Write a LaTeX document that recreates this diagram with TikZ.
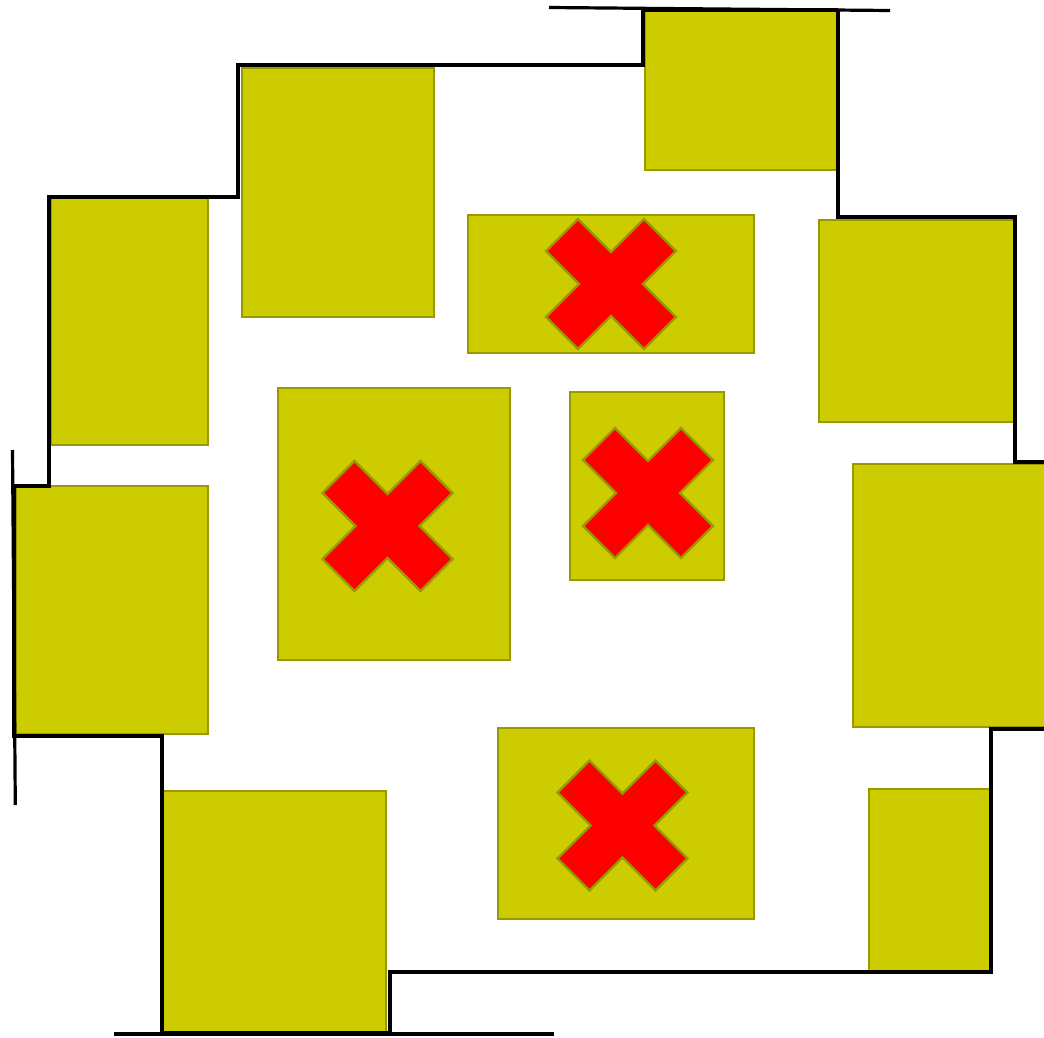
\documentclass[tikz,border=0pt]{standalone}
\usepackage{tikz}
\definecolor{boxfill}{HTML}{CCCC00}
\definecolor{boxedge}{HTML}{999900}
\definecolor{xred}{HTML}{FF0000}
\tikzset{
  blk/.style={fill=boxfill,draw=boxedge,line width=2.8pt},
  cross/.style={fill=xred,draw=boxedge,line width=2.2pt,line join=miter},
  wall/.style={draw=black,line width=4pt,line join=miter},
  thin wall/.style={draw=black,line width=3.2pt}
}
\newcommand{\xmark}[2]{%
  \path[cross,shift={(#1,#2)}] (-33,-65)--(0,-32)--(33,-65)--(65,-33)--(32,0)--(65,33)--(33,65)--(0,32)--(-33,65)--(-65,33)--(-32,0)--(-65,-33)--cycle;}
\begin{document}
\begin{tikzpicture}[x=1pt,y=-1pt]
\useasboundingbox (0,0) rectangle (1044,1038);
% blocks
\path[blk] (645,11) rectangle (837,170);
\path[blk] (242,68) rectangle (434,317);
\path[blk] (51,198) rectangle (208,445);
\path[blk] (16,486) rectangle (208,734);
\path[blk] (162,791) rectangle (386,1033);
\path[blk] (498,728) rectangle (754,919);
\path[blk] (869,789) rectangle (990,972);
\path[blk] (853,464) rectangle (1050,727);
\path[blk] (819,220) rectangle (1014,422);
\path[blk] (468,215) rectangle (754,353);
\path[blk] (278,388) rectangle (510,660);
\path[blk] (570,392) rectangle (724,580);
% crosses
\xmark{611}{284}
\xmark{387.5}{526}
\xmark{648}{493}
\xmark{622.5}{825.5}
% outline
\path[wall] (838,10) -- (838,217) -- (1015,217) -- (1015,462) -- (1050,462);
\path[wall] (1050,729) -- (991,729) -- (991,972) -- (390,972) -- (390,1033)
  -- (162,1033) -- (162,736) -- (14,736) -- (14,486) -- (49,486) -- (49,197)
  -- (238,197) -- (238,65) -- (643,65) -- (643,10) -- (838,10);
% extra lines
\path[thin wall] (549,7.5) -- (890,10.5);
\path[thin wall] (114,1034) -- (554,1034);
\path[thin wall] (12.5,450) -- (15.3,805);
\end{tikzpicture}
\end{document}
